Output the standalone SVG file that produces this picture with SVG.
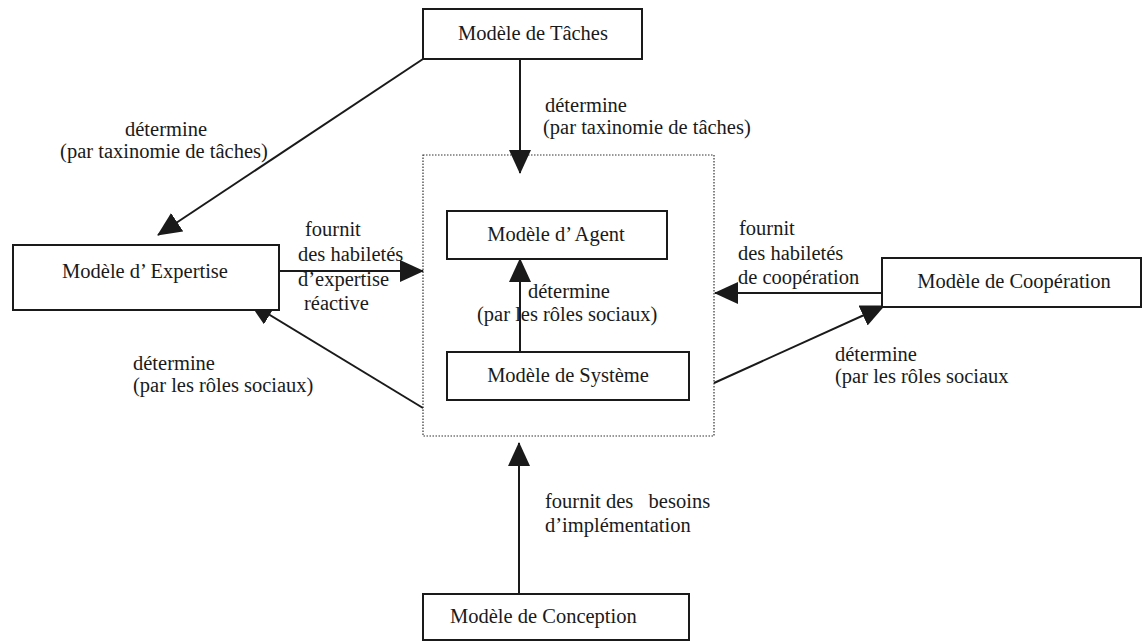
<svg xmlns="http://www.w3.org/2000/svg" width="1147" height="643" viewBox="0 0 1147 643">
  <style>
    .box { fill: #ffffff; stroke: #1a1a1a; stroke-width: 2; }
    .frame { fill: none; stroke: #333333; stroke-width: 1.2; stroke-dasharray: 1.5 1.5; }
    .edge { fill: none; stroke: #1a1a1a; stroke-width: 2; marker-end: url(#head); }
    text { font-family: "Liberation Serif", "Times New Roman", serif; font-size: 20.5px; fill: #1a1a1a; }
    .mid { text-anchor: middle; }
  </style>
  <defs>
    <marker id="head" markerUnits="userSpaceOnUse" markerWidth="26" markerHeight="24" refX="23" refY="11" orient="auto">
      <path d="M0,0 L24,11 L0,22 z" fill="#1a1a1a"/>
    </marker>
  </defs>

  <rect width="1147" height="643" fill="#ffffff"/>

  <!-- dotted frame grouping agent and system models -->
  <rect id="frame" class="frame" x="423" y="155" width="291" height="281"/>

  <g id="connectors">
    <!-- Tâches -> frame -->
    <line class="edge" x1="520" y1="59" x2="520" y2="173"/>
    <!-- Tâches -> Expertise -->
    <line class="edge" x1="423" y1="59" x2="158" y2="235"/>
    <!-- Expertise -> frame -->
    <line class="edge" x1="279" y1="271" x2="423" y2="271"/>
    <!-- Système -> Agent -->
    <line class="edge" x1="520" y1="352" x2="520" y2="259"/>
    <!-- Coopération -> frame -->
    <line class="edge" x1="882" y1="293" x2="715" y2="293"/>
    <!-- frame -> Coopération -->
    <line class="edge" x1="714" y1="383" x2="884" y2="306"/>
    <!-- frame -> Expertise -->
    <line class="edge" x1="423" y1="408" x2="250" y2="303"/>
    <!-- Conception -> frame -->
    <line class="edge" x1="519" y1="594" x2="519" y2="443"/>
  </g>

  <g id="labels">
    <text x="545" y="112">détermine</text>
    <text x="543" y="134">(par taxinomie de tâches)</text>

    <text class="mid" x="166" y="136">détermine</text>
    <text class="mid" x="164" y="158">(par taxinomie de tâches)</text>

    <text x="305" y="236">fournit</text>
    <text x="298" y="261">des habiletés</text>
    <text x="298" y="286">d’expertise</text>
    <text x="304" y="310">réactive</text>

    <text x="739" y="235">fournit</text>
    <text x="738" y="260">des habiletés</text>
    <text x="738" y="284">de coopération</text>

    <text x="528" y="298">détermine</text>
    <text x="477" y="321">(par les rôles sociaux)</text>

    <text x="133" y="370">détermine</text>
    <text x="133" y="392">(par les rôles sociaux)</text>

    <text x="835" y="361">détermine</text>
    <text x="835" y="383">(par les rôles sociaux</text>

    <text x="545" y="508" xml:space="preserve">fournit des   besoins</text>
    <text x="545" y="532">d’implémentation</text>
  </g>

  <g id="taches">
    <rect class="box" x="423" y="9" width="219" height="50"/>
    <text class="mid" x="533" y="40">Modèle de Tâches</text>
  </g>
  <g id="expertise">
    <rect class="box" x="13" y="245" width="266" height="65"/>
    <text class="mid" x="145" y="278">Modèle d’ Expertise</text>
  </g>
  <g id="agent">
    <rect class="box" x="447" y="211" width="220" height="48"/>
    <text class="mid" x="556" y="241">Modèle d’ Agent</text>
  </g>
  <g id="systeme">
    <rect class="box" x="447" y="352" width="242" height="48"/>
    <text class="mid" x="568" y="382">Modèle de Système</text>
  </g>
  <g id="cooperation">
    <rect class="box" x="882" y="258" width="259" height="49"/>
    <text class="mid" x="1014" y="288">Modèle de Coopération</text>
  </g>
  <g id="conception">
    <rect class="box" x="423" y="594" width="266" height="46"/>
    <text x="450" y="623">Modèle de Conception</text>
  </g>
</svg>
